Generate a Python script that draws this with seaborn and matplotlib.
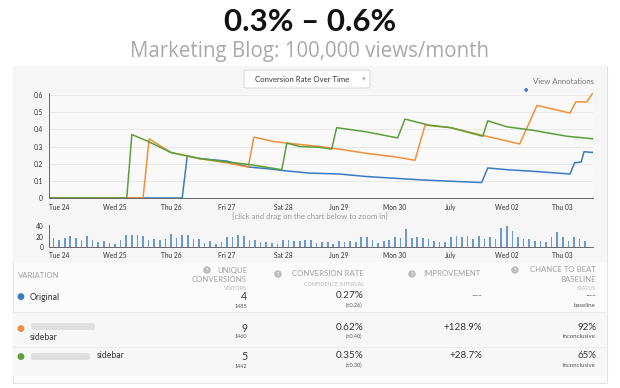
import numpy as np
import pandas as pd
import matplotlib
matplotlib.use("Agg")
import matplotlib.pyplot as plt
import seaborn as sns
from matplotlib.patches import Rectangle, FancyBboxPatch

# ---------------- data ----------------
day_ticks = [0, 1, 2, 3, 4, 5, 6, 7, 8, 9]
day_labels = ["Tue 24", "Wed 25", "Thu 26", "Fri 27", "Sat 28",
              "Jun 29", "Mon 30", "July", "Wed 02", "Thu 03"]
rate_ticks = [0, 0.1, 0.2, 0.3, 0.4, 0.5, 0.6]
rate_labels = ["0", "0.1", "0.2", "0.3", "0.4", "0.5", "0.6"]
visit_ticks = [0, 20, 40]

orig_day = [-0.18, 2.2, 2.29, 2.5, 3.0, 3.4, 3.75, 4.0, 4.48, 5.0, 5.5, 6.5,
            7.55, 7.66, 8.0, 8.5, 9.13, 9.21, 9.33, 9.38, 9.54]
orig_rate = [0, 0, 0.245, 0.23, 0.215, 0.18, 0.17, 0.16, 0.145, 0.14, 0.125, 0.105,
             0.09, 0.175, 0.165, 0.155, 0.14, 0.205, 0.21, 0.27, 0.265]

var1_day = [-0.18, 1.5, 1.61, 2.0, 2.5, 3.0, 3.38, 3.48, 3.82, 4.07, 4.66, 5.0,
            5.5, 6.0, 6.36, 6.54, 7.0, 7.57, 8.23, 8.54, 9.13, 9.23, 9.43, 9.54]
var1_rate = [0, 0, 0.345, 0.265, 0.23, 0.205, 0.18, 0.355, 0.33, 0.32, 0.30, 0.285,
             0.26, 0.24, 0.22, 0.425, 0.41, 0.365, 0.315, 0.54, 0.495, 0.56, 0.56, 0.615]

var2_day = [-0.18, 1.21, 1.30, 1.59, 2.0, 2.52, 3.0, 3.4, 3.98, 4.07, 4.3, 4.66,
            4.87, 4.96, 5.5, 6.05, 6.18, 6.6, 7.0, 7.57, 7.66, 8.0, 8.46, 9.07, 9.54]
var2_rate = [0, 0, 0.37, 0.33, 0.265, 0.23, 0.21, 0.195, 0.165, 0.32, 0.30, 0.295,
             0.285, 0.41, 0.385, 0.35, 0.46, 0.425, 0.41, 0.36, 0.45, 0.415, 0.395, 0.36, 0.345]

visits = [17, 14, 18, 21, 18, 13, 21, 14, 10, 12,
          8, 6, 14, 23, 22, 22, 21, 13, 15, 13,
          16, 25, 17, 23, 23, 16, 16, 8, 12, 5,
          9, 20, 19, 23, 21, 13, 13, 10, 9, 8,
          5, 13, 13, 12, 12, 13, 13, 7, 9, 9,
          5, 12, 9, 12, 9, 20, 20, 14, 8, 12,
          13, 20, 17, 35, 18, 20, 18, 16, 11, 10,
          10, 20, 21, 20, 21, 16, 21, 16, 20, 16,
          36, 40, 30, 20, 16, 16, 12, 11, 10, 20,
          29, 20, 12, 20, 16, 12]
visit_day = [round(-0.1 + 0.1 * i, 2) for i in range(len(visits))]

var_names = ["Original", "sidebar", "sidebar"]
conversions = ["4", "9", "5"]
visitors = ["1485", "1460", "1442"]
conv_rate = ["0.27%", "0.62%", "0.35%"]
conf_int = ["(±0.26)", "(±0.40)", "(±0.30)"]
improvement = ["---", "+128.9%", "+28.7%"]
chance = ["---", "92%", "65%"]
status = ["baseline", "inconclusive", "inconclusive"]

colors = ["#3a7bc0", "#f0903a", "#5b9f3a"]

# ---------------- layout helpers ----------------
W, H = 620, 388
def fx(x): return x / W
def fy(y): return 1 - y / H

sns.set_style("white")
plt.rcParams['font.family'] = ['Lato', 'DejaVu Sans']

fig = plt.figure(figsize=(6.2, 3.88), dpi=100)
fig.patch.set_facecolor("white")

def frect(x0, y0, x1, y1, **kw):
    fig.patches.append(Rectangle((fx(x0), fy(y1)), fx(x1) - fx(x0), fy(y0) - fy(y1),
                                 transform=fig.transFigure, **kw))

# panels (behind everything)
frect(13, 66, 607, 383, fc="#fbfbfb", ec="#e4e4e4", lw=0.8, zorder=-3)
frect(13, 66, 607, 262, fc="#f6f6f6", ec="none", zorder=-2)
frect(13, 312, 607, 346, fc="#f7f7f7", ec="none", zorder=-2)
frect(13, 347, 607, 376, fc="#f7f7f7", ec="none", zorder=-2)
for yy in [312, 346.5]:
    fig.lines.append(plt.Line2D([fx(13), fx(607)], [fy(yy), fy(yy)], transform=fig.transFigure,
                                color="#ececec", lw=0.8, zorder=-1))

# titles
fig.text(0.5, fy(22), "0.3% – 0.6%", ha="center", va="center", fontsize=22.5,
         fontweight="bold", color="#111111")
fig.text(0.5, fy(52), "Marketing Blog: 100,000 views/month", ha="center", va="center",
         fontsize=14.8, color="#a9a9a9", family=["Open Sans", "DejaVu Sans"])

# dropdown
fig.patches.append(FancyBboxPatch((fx(244), fy(88)), fx(370) - fx(244), fy(70) - fy(88),
                                  boxstyle="round,pad=0,rounding_size=0.004", transform=fig.transFigure,
                                  fc="white", ec="#d6d6d6", lw=0.7, zorder=2))
fig.text(fx(302), fy(79), "Conversion Rate Over Time", ha="center", va="center", fontsize=5.6,
         color="#333333", zorder=3)
fig.text(fx(364), fy(79), "▾", ha="center", va="center", fontsize=5, color="#aaaaaa",
         family=["DejaVu Sans"], zorder=3)
fig.text(fx(594), fy(81), "View Annotations", ha="right", va="center", fontsize=5.6, color="#777777")
fig.text(fx(526), fy(89), "●", ha="center", va="center", fontsize=3.5, color="#3a7bc0",
         family=["DejaVu Sans"])

# ---------------- main chart ----------------
ax = fig.add_axes([fx(49), fy(198), fx(593) - fx(49), fy(93) - fy(198)])
ax.set_zorder(1)
ax.set_facecolor("#f9f9f9")
df = pd.concat([
    pd.DataFrame({"day": orig_day, "rate": orig_rate, "variation": "Original"}),
    pd.DataFrame({"day": var1_day, "rate": var1_rate, "variation": "V1"}),
    pd.DataFrame({"day": var2_day, "rate": var2_rate, "variation": "V2"}),
], ignore_index=True)
sns.lineplot(data=df, x="day", y="rate", hue="variation", palette=colors, estimator=None,
             sort=False, legend=False, linewidth=1.1, ax=ax)
ax.set_xlim(-0.18, 9.54)
ax.set_ylim(0, 0.612)
ax.set_xticks(day_ticks)
ax.set_xticklabels(day_labels)
ax.set_yticks(rate_ticks)
ax.set_yticklabels(rate_labels)
ax.set_xlabel("")
ax.set_ylabel("")
ax.grid(axis="y", color="#e6e6e6", lw=0.6)
ax.set_axisbelow(True)
for s in ["top", "right"]:
    ax.spines[s].set_visible(False)
for s in ["left", "bottom"]:
    ax.spines[s].set_color("#666666")
    ax.spines[s].set_linewidth(0.7)
ax.tick_params(axis="both", length=3, width=0.6, color="#666666", labelsize=4.8,
               labelcolor="#333333", pad=1.5, direction="out")

fig.text(0.5, fy(216), "[click and drag on the chart below to zoom in]", ha="center", va="center",
         fontsize=5.6, color="#999999")

# ---------------- mini chart ----------------
ax2 = fig.add_axes([fx(49), fy(247), fx(593) - fx(49), fy(225) - fy(247)])
ax2.set_zorder(1)
ax2.set_facecolor("#f6f6f6")
sns.barplot(x=visit_day, y=visits, native_scale=True, color="#6b9acb", width=0.3,
            saturation=1, linewidth=0, ax=ax2)
ax2.set_xlim(-0.18, 9.54)
ax2.set_ylim(0, 42)
ax2.set_xticks(day_ticks)
ax2.set_xticklabels(day_labels)
ax2.set_yticks(visit_ticks)
ax2.set_yticklabels([str(v) for v in visit_ticks])
ax2.set_xlabel("")
ax2.set_ylabel("")
for s in ["top", "right"]:
    ax2.spines[s].set_visible(False)
for s in ["left", "bottom"]:
    ax2.spines[s].set_color("#666666")
    ax2.spines[s].set_linewidth(0.7)
ax2.tick_params(axis="both", length=2.5, width=0.6, color="#666666", labelsize=4.8,
                labelcolor="#333333", pad=1.2, direction="out")

# ---------------- table ----------------
hc = "#a0a0a0"
def qmark(x, y):
    fig.text(fx(x), fy(y), "?", ha="center", va="center", fontsize=3.6, color="white",
             fontweight="bold",
             bbox=dict(boxstyle="circle,pad=0.25", fc="#bdbdbd", ec="none"))

fig.text(fx(18), fy(276), "VARIATION", ha="left", va="center", fontsize=5.6, color=hc)
qmark(207, 270)
fig.text(fx(247), fy(270), "UNIQUE", ha="right", va="center", fontsize=5.6, color=hc)
fig.text(fx(247), fy(279), "CONVERSIONS", ha="right", va="center", fontsize=5.6, color=hc)
fig.text(fx(247), fy(288), "VISITORS", ha="right", va="center", fontsize=3.8, color="#b5b5b5")
qmark(278, 274)
fig.text(fx(364), fy(274), "CONVERSION RATE", ha="right", va="center", fontsize=5.6, color=hc)
fig.text(fx(364), fy(284.5), "CONFIDENCE INTERVAL", ha="right", va="center", fontsize=3.8, color="#b5b5b5")
qmark(412, 274)
fig.text(fx(481), fy(274), "IMPROVEMENT", ha="right", va="center", fontsize=5.6, color=hc)
qmark(515, 270)
fig.text(fx(596), fy(270), "CHANCE TO BEAT", ha="right", va="center", fontsize=5.6, color=hc)
fig.text(fx(596), fy(279), "BASELINE", ha="right", va="center", fontsize=5.6, color=hc)
fig.text(fx(596), fy(288), "STATUS", ha="right", va="center", fontsize=3.8, color="#b5b5b5")

row_y = [297, 328, 357]
for i in range(3):
    y = row_y[i]
    fig.text(fx(20), fy(y), "●", ha="center", va="center", fontsize=6.5, color=colors[i],
             family=["DejaVu Sans"])
    fig.text(fx(247), fy(y), conversions[i], ha="right", va="center", fontsize=7.6, color="#333333")
    fig.text(fx(247), fy(y + 9), visitors[i], ha="right", va="center", fontsize=4, color="#555555")
    fig.text(fx(364), fy(y - 1), conv_rate[i], ha="right", va="center", fontsize=7.2, color="#333333")
    fig.text(fx(362), fy(y + 8.5), conf_int[i], ha="right", va="center", fontsize=4, color="#555555")
    fig.text(fx(482), fy(y - 1), improvement[i], ha="right", va="center", fontsize=7,
             color="#777777" if i == 0 else "#333333")
    fig.text(fx(596), fy(y - 1), chance[i], ha="right", va="center", fontsize=7,
             color="#777777" if i == 0 else "#333333")
    fig.text(fx(596), fy(y + 8.5), status[i], ha="right", va="center", fontsize=4.4, color="#555555")

fig.text(fx(30), fy(row_y[0]), var_names[0], ha="left", va="center", fontsize=6.2, color="#333333")
# blurred (redacted) names
fig.patches.append(FancyBboxPatch((fx(31), fy(330)), fx(95) - fx(31), fy(323) - fy(330),
                                  boxstyle="round,pad=0,rounding_size=0.005", transform=fig.transFigure,
                                  fc="#d9d9d9", ec="none", alpha=0.8))
fig.text(fx(30), fy(337), var_names[1], ha="left", va="center", fontsize=6.2, color="#333333")
fig.patches.append(FancyBboxPatch((fx(31), fy(360)), fx(90) - fx(31), fy(353) - fy(360),
                                  boxstyle="round,pad=0,rounding_size=0.005", transform=fig.transFigure,
                                  fc="#d9d9d9", ec="none", alpha=0.8))
fig.text(fx(97), fy(356), var_names[2], ha="left", va="center", fontsize=6.2, color="#333333")

fig.savefig("out.png", dpi=100, facecolor="white")
